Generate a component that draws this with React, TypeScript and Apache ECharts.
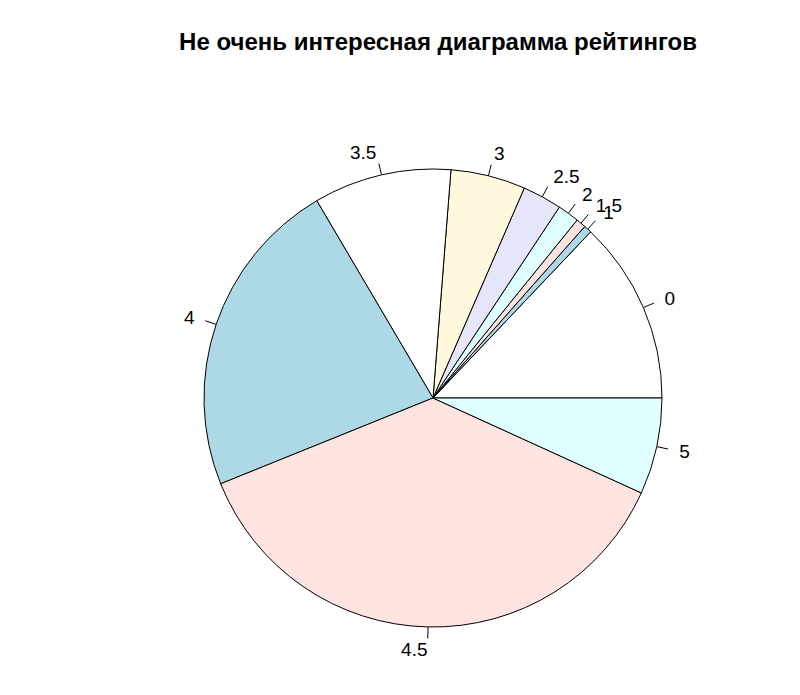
import React, { useEffect, useRef } from "react";
import * as echarts from "echarts";

const categories = ["0", "1", "1.5", "2", "2.5", "3", "3.5", "4", "4.5", "5"];
const counts = [93, 4, 5, 11, 20, 38, 70, 163, 267, 49];
const sliceColors = [
  "#FFFFFF", "#ADD8E6", "#FFE4E1", "#E0FFFF", "#E6E6FA",
  "#FFF8DC", "#FFFFFF", "#ADD8E6", "#FFE4E1", "#E0FFFF",
];
const titleText = "Не очень интересная диаграмма рейтингов";

const FONT = "'Liberation Sans', Arial, Helvetica, sans-serif";

export default function App() {
  const ref = useRef<HTMLDivElement>(null);
  useEffect(() => {
    document.body.style.margin = "0";
    const chart = echarts.init(ref.current!, null, { renderer: "svg" });
    const cx = 433;
    const cy = 398;
    const r = 229;
    const data = categories.map((c, i) => ({
      name: c,
      value: counts[i],
      itemStyle: { color: sliceColors[i] },
    }));
    chart.setOption({
      animation: false,
      backgroundColor: "#ffffff",
      title: {
        text: titleText,
        left: cx,
        textAlign: "center",
        top: 24,
        textStyle: {
          fontFamily: FONT,
          fontWeight: "bold",
          fontSize: 24,
          color: "#000",
        },
      },
      series: [
        {
          type: "pie",
          center: [cx, cy],
          radius: [0, r],
          startAngle: 0,
          clockwise: false,
          avoidLabelOverlap: false,
          silent: true,
          data,
          itemStyle: { borderColor: "#000", borderWidth: 1 },
          label: {
            show: true,
            position: "outside",
            formatter: () => " ",
            fontSize: 1,
            distanceToLabelLine: 0,
          },
          labelLine: {
            show: true,
            length: r * 0.05,
            length2: 0,
            smooth: false,
            lineStyle: { color: "#000", width: 1 },
          },
          labelLayout: { hideOverlap: false },
          emphasis: { disabled: true },
          z: 2,
        },
        {
          type: "pie",
          center: [cx, cy],
          radius: [0, r * 1.1],
          startAngle: 0,
          clockwise: false,
          avoidLabelOverlap: false,
          silent: true,
          data: categories.map((c, i) => ({ name: c, value: counts[i] })),
          itemStyle: { color: "rgba(0,0,0,0)", borderWidth: 0 },
          label: {
            show: true,
            position: "outside",
            formatter: "{b}",
            fontFamily: FONT,
            fontSize: 19,
            color: "#000",
            distanceToLabelLine: 0,
          },
          labelLine: { show: false, length: 0, length2: 0 },
          labelLayout: { hideOverlap: false },
          emphasis: { disabled: true },
          z: 1,
        },
      ],
    });
    return () => chart.dispose();
  }, []);
  return (
    <div
      ref={ref}
      style={{ position: "absolute", left: 0, top: 0, width: 800, height: 695 }}
    />
  );
}
